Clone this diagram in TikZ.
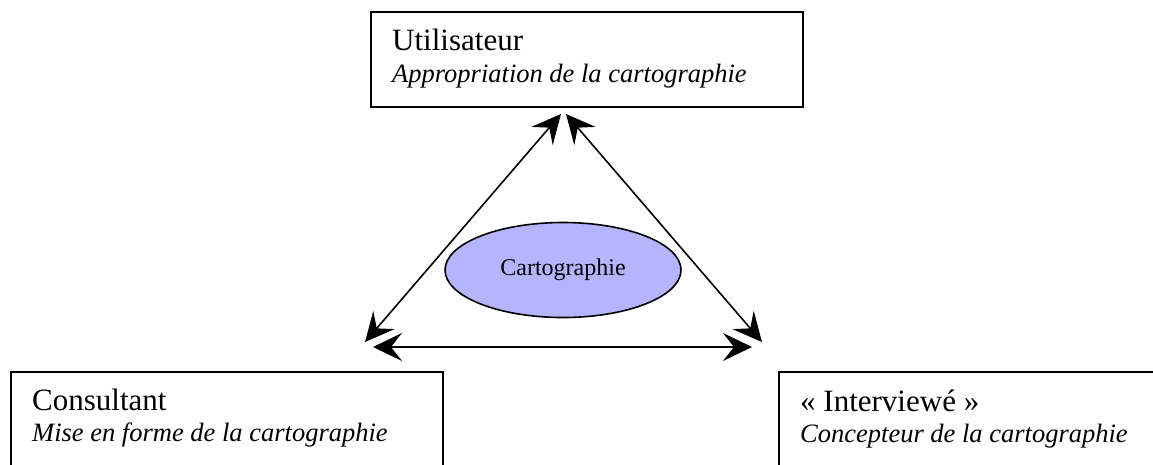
\documentclass[tikz,border=0pt]{standalone}
\usepackage{fontspec}
\setmainfont{Liberation Serif}
\usetikzlibrary{shapes.geometric,arrows.meta}
\begin{document}
\begin{tikzpicture}[x=1pt,y=-1pt,
  rolebox/.style={draw=black,line width=2.2pt,rectangle,inner sep=0pt},
  titletext/.style={anchor=base west,inner sep=0pt,font=\fontsize{31}{36}\selectfont},
  subtext/.style={anchor=base west,inner sep=0pt,font=\fontsize{26.5}{31}\selectfont\itshape},
  link/.style={line width=1.6pt,{Stealth[length=29pt,width=28pt,inset=11pt]}-{Stealth[length=29pt,width=28pt,inset=11pt]}},
  core/.style={draw=black,line width=1.6pt,ellipse,fill=myblue,minimum width=236pt,minimum height=95pt,inner sep=0pt,font=\fontsize{24}{28}\selectfont}
]
\definecolor{myblue}{RGB}{180,180,255}
\useasboundingbox (0,0) rectangle (1153,464);
% boxes
\node[rolebox,minimum width=432pt,minimum height=95pt] (util) at (587,59.5) {};
\node[rolebox,minimum width=432pt,minimum height=130pt] (cons) at (227,437) {};
\node[rolebox,minimum width=432pt,minimum height=130pt] (inter) at (995,437) {};
% texts
\node[titletext] (t1) at (392,50) {Utilisateur};
\node[subtext] (s1) at (392,82) {Appropriation de la cartographie};
\node[titletext] (t2) at (32,410) {Consultant};
\node[subtext] (s2) at (32,441) {Mise en forme de la cartographie};
\node[titletext] (t3) at (800,411) {« Interviewé »};
\node[subtext] (s3) at (800,442) {Concepteur de la cartographie};
% ellipse
\node[core] (carto) at (563,270) {Cartographie};
% arrow ends
\coordinate (uL) at (561,114);
\coordinate (uR) at (566,114);
\coordinate (cT) at (365,342);
\coordinate (iT) at (762,342);
\coordinate (cB) at (373,347);
\coordinate (iB) at (752,347);
\draw[link] (uL) -- (cT);
\draw[link] (uR) -- (iT);
\draw[link] (cB) -- (iB);
\end{tikzpicture}
\end{document}
